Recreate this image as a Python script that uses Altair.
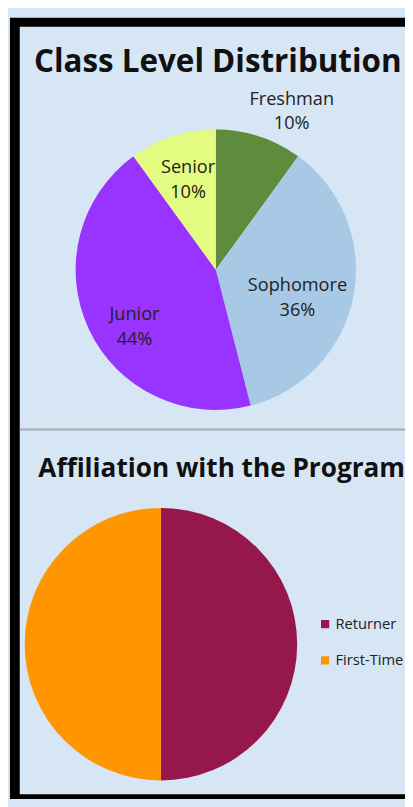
import altair as alt
import pandas as pd

# ---- data ----
class_levels = ["Freshman", "Sophomore", "Junior", "Senior"]
class_pct = [10, 36, 44, 10]
class_colors = ["#5f8b3c", "#a8c9e5", "#9933ff", "#e3fb80"]

affil_names = ["Returner", "First-Time"]
affil_pct = [50, 50]
affil_colors = ["#95174b", "#ff9500"]

titles = ["Class Level Distribution", "Affiliation with the Program"]

# ---- layout constants ----
W, H = 405, 799
BG = "#d7e6f4"
FONT = "Open Sans"
C1 = (212, 259, 143)   # pie 1 centre x, y, radius
C2 = (156, 641, 139)   # pie 2 centre x, y, radius

class_df = pd.DataFrame({"level": class_levels, "pct": class_pct, "order": list(range(len(class_levels)))})
affil_df = pd.DataFrame({"aff": affil_names, "pct": affil_pct, "order": list(range(len(affil_names)))})
one = pd.DataFrame({"k": [0]})

frame = alt.Chart(one).mark_rect(color="black").encode(
    x=alt.value(2), x2=alt.value(W), y=alt.value(2), y2=alt.value(H))
inner = alt.Chart(one).mark_rect(color=BG).encode(
    x=alt.value(12), x2=alt.value(W), y=alt.value(11), y2=alt.value(794))
sep = alt.Chart(one).mark_rule(color="#a9abad", strokeWidth=2).encode(
    x=alt.value(12), x2=alt.value(W), y=alt.value(422))

title1 = alt.Chart(one).mark_text(text=titles[0], font=FONT, fontSize=32, fontWeight="bold",
                                   color="#111", align="center", baseline="alphabetic").encode(
    x=alt.value(214), y=alt.value(57))
title2 = alt.Chart(one).mark_text(text=titles[1], font=FONT, fontSize=26.7, fontWeight="bold",
                                   color="#111", align="center", baseline="alphabetic").encode(
    x=alt.value(218), y=alt.value(470))

pie1 = alt.Chart(class_df).mark_arc(radius=C1[2]).encode(
    theta=alt.Theta("pct:Q", stack=True),
    color=alt.Color("level:N", scale=alt.Scale(domain=class_levels, range=class_colors), legend=None),
    order=alt.Order("order:Q"),
    x=alt.value(C1[0]), y=alt.value(C1[1]),
)


def label_layer(name, radius, dx, dy):
    return (
        alt.Chart(class_df)
        .transform_window(cum="sum(pct)", sort=[alt.SortField("order")])
        .transform_calculate(mid="datum.cum - datum.pct / 2",
                             label="datum.level + '\\n' + datum.pct + '%'")
        .transform_filter(alt.datum.level == name)
        .mark_text(radius=radius, dx=dx, dy=dy, font=FONT, fontSize=18.5, color="#222",
                   lineBreak="\n", lineHeight=25, align="center", baseline="middle")
        .encode(theta=alt.Theta("mid:Q", scale=alt.Scale(domain=[0, 100])),
                text="label:N",
                x=alt.value(C1[0]), y=alt.value(C1[1]))
    )


labels = [
    label_layer("Freshman", 160, 28, -22),
    label_layer("Sophomore", 95, -10, -2),
    label_layer("Junior", 95, 3, 5),
    label_layer("Senior", 95, 1, -14),
]

pie2 = alt.Chart(affil_df).mark_arc(radius=C2[2]).encode(
    theta=alt.Theta("pct:Q", stack=True),
    color=alt.Color("aff:N", scale=alt.Scale(domain=affil_names, range=affil_colors),
                    legend=alt.Legend(title=None, orient="none", legendX=316, legendY=613,
                                      symbolType="square", symbolSize=70, symbolStrokeWidth=0,
                                      labelFontSize=15, labelFont=FONT, labelColor="#222",
                                      rowPadding=21, padding=0, labelOffset=3)),
    order=alt.Order("order:Q"),
    x=alt.value(C2[0]), y=alt.value(C2[1]),
)

chart = alt.layer(frame, inner, sep, title1, title2, pie1, *labels, pie2).resolve_scale(
    color="independent", theta="independent"
).properties(
    width=W, height=H, autosize="none", padding=0, background=BG
).configure_view(stroke=None)

chart.save("out.html", embed_options={"renderer": "svg", "actions": False})
